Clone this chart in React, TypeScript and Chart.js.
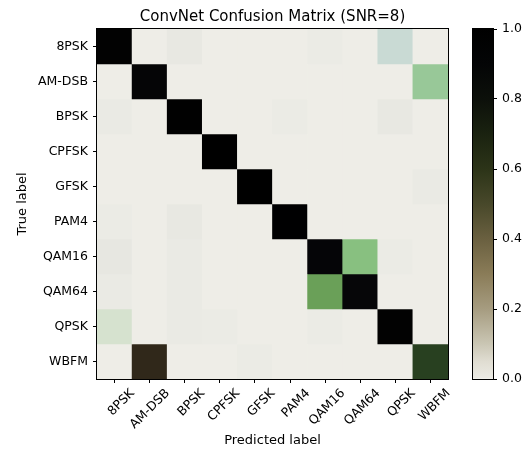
import React, { useEffect, useRef } from "react";
import { Chart, registerables } from "chart.js";

Chart.register(...registerables);

// ---- data ----
const classes = ["8PSK", "AM-DSB", "BPSK", "CPFSK", "GFSK", "PAM4", "QAM16", "QAM64", "QPSK", "WBFM"];

// rows = true label, columns = predicted label
const row8PSK = [0.88, 0, 0.02, 0, 0, 0, 0.01, 0, 0.11, 0];
const rowAMDSB = [0, 0.7, 0, 0, 0, 0, 0, 0, 0, 0.3];
const rowBPSK = [0.015, 0, 0.95, 0, 0, 0.01, 0, 0, 0.02, 0];
const rowCPFSK = [0, 0, 0, 1.0, 0, 0, 0, 0, 0, 0];
const rowGFSK = [0, 0, 0, 0, 0.98, 0, 0, 0, 0, 0.015];
const rowPAM4 = [0.01, 0, 0.02, 0, 0, 0.97, 0, 0, 0, 0];
const rowQAM16 = [0.025, 0, 0.012, 0, 0, 0, 0.64, 0.32, 0.01, 0];
const rowQAM64 = [0.015, 0, 0.012, 0, 0, 0, 0.38, 0.6, 0, 0];
const rowQPSK = [0.08, 0, 0.012, 0.01, 0, 0, 0.01, 0, 0.88, 0];
const rowWBFM = [0, 0.55, 0, 0, 0.01, 0, 0, 0, 0, 0.44];

const matrix = [row8PSK, rowAMDSB, rowBPSK, rowCPFSK, rowGFSK, rowPAM4, rowQAM16, rowQAM64, rowQPSK, rowWBFM];

const colorbarTicks = [0.0, 0.2, 0.4, 0.6, 0.8, 1.0];

// ---- styles ----
const FONT = "DejaVu Sans";

// colour map used for the matrix cells
const cellStops: [number, [number, number, number]][] = [
  [0.0, [238, 237, 231]],
  [0.01, [235, 235, 229]],
  [0.025, [231, 231, 225]],
  [0.08, [214, 226, 207]],
  [0.11, [201, 218, 212]],
  [0.3, [152, 200, 152]],
  [0.32, [136, 192, 128]],
  [0.38, [106, 160, 88]],
  [0.44, [40, 64, 32]],
  [0.55, [48, 40, 26]],
  [0.6, [6, 6, 8]],
  [1.0, [0, 0, 0]],
];

// colour bar gradient
const barStops: [number, string][] = [
  [0.0, "#ecebe5"],
  [0.05, "#e0ddd2"],
  [0.1, "#cac6b4"],
  [0.2, "#a69c80"],
  [0.3, "#8a7c58"],
  [0.4, "#6a6040"],
  [0.5, "#48482a"],
  [0.6, "#2c3418"],
  [0.7, "#1a2210"],
  [0.8, "#0c100a"],
  [0.9, "#040506"],
  [1.0, "#000000"],
];

function cmap(v: number): string {
  for (let i = 1; i < cellStops.length; i++) {
    const [v1, c1] = cellStops[i];
    const [v0, c0] = cellStops[i - 1];
    if (v <= v1) {
      const t = v1 === v0 ? 0 : Math.max(0, (v - v0) / (v1 - v0));
      const c = c0.map((a, k) => Math.round(a + (c1[k] - a) * t));
      return `rgb(${c[0]},${c[1]},${c[2]})`;
    }
  }
  return "rgb(0,0,0)";
}

const framePlugin = {
  id: "frame",
  afterDatasetsDraw(chart: any) {
    const { ctx, chartArea } = chart;
    ctx.save();
    ctx.strokeStyle = "#000";
    ctx.lineWidth = 1;
    const l = Math.round(chartArea.left) - 0.5;
    const t = Math.round(chartArea.top) - 0.5;
    const r = Math.round(chartArea.right) + 0.5;
    const b = Math.round(chartArea.bottom) + 0.5;
    ctx.strokeRect(l, t, r - l, b - t);
    ctx.restore();
  },
};

export default function App() {
  const mainRef = useRef<HTMLCanvasElement>(null);
  const barRef = useRef<HTMLCanvasElement>(null);

  useEffect(() => {
    const tickFont = { family: FONT, size: 12.5 };
    const main = new Chart(mainRef.current!, {
      type: "bar",
      data: {
        labels: classes,
        datasets: matrix.map((row, r) => ({
          label: classes[r],
          data: row.map(() => [r - 0.5, r + 0.5]),
          backgroundColor: row.map((v) => cmap(v)),
          borderWidth: 0,
          barPercentage: 1,
          categoryPercentage: 1,
          grouped: false,
        })),
      } as any,
      options: {
        responsive: false,
        animation: false,
        devicePixelRatio: 1,
        layout: { padding: { left: 0, right: 76, top: 0, bottom: 0 } },
        plugins: { legend: { display: false }, tooltip: { enabled: false }, title: { display: false } },
        scales: {
          x: {
            type: "category",
            offset: true,
            grid: { display: true, drawOnChartArea: false, offset: false, tickLength: 4, tickColor: "#000", color: "#000" },
            border: { display: false },
            ticks: {
              autoSkip: false,
              minRotation: 45,
              maxRotation: 45,
              padding: 3,
              labelOffset: 18,
              color: "#000",
              font: tickFont,
            },
            title: {
              display: true,
              text: "Predicted label",
              color: "#000",
              font: { family: FONT, size: 13 },
              padding: { top: 0, bottom: 0.5 },
            },
            afterFit: (s: any) => {
              s.height = 70;
            },
          },
          xTop: {
            type: "category",
            position: "top",
            grid: { display: false },
            border: { display: false },
            ticks: { display: false },
            title: {
              display: true,
              text: "ConvNet Confusion Matrix (SNR=8)",
              color: "#000",
              font: { family: FONT, size: 15 },
              padding: { top: 8, bottom: 0 },
            },
            afterFit: (s: any) => {
              s.height = 29;
            },
          },
          y: {
            type: "linear",
            reverse: true,
            min: -0.5,
            max: 9.5,
            afterBuildTicks: (s: any) => {
              s.ticks = classes.map((_, i) => ({ value: i }));
            },
            grid: { display: true, drawOnChartArea: false, tickLength: 4, tickColor: "#000", color: "#000" },
            border: { display: false },
            ticks: {
              autoSkip: false,
              padding: 5,
              color: "#000",
              font: tickFont,
              callback: (v: any) => classes[Math.round(Number(v))],
            },
            title: {
              display: true,
              text: "True label",
              color: "#000",
              font: { family: FONT, size: 13 },
              padding: { top: 14.5, bottom: 0 },
            },
            afterFit: (s: any) => {
              s.width = 97;
            },
          },
        },
      } as any,
      plugins: [framePlugin],
    });

    const bar = new Chart(barRef.current!, {
      type: "bar",
      data: {
        labels: [""],
        datasets: [
          {
            data: [[colorbarTicks[0], colorbarTicks[colorbarTicks.length - 1]]],
            borderWidth: 0,
            barPercentage: 1,
            categoryPercentage: 1,
            backgroundColor: (ctx: any) => {
              const area = ctx.chart.chartArea;
              if (!area) return "#888";
              const g = ctx.chart.ctx.createLinearGradient(0, area.bottom, 0, area.top);
              barStops.forEach(([p, c]) => g.addColorStop(p, c));
              return g;
            },
          },
        ],
      } as any,
      options: {
        responsive: false,
        animation: false,
        devicePixelRatio: 1,
        layout: { padding: { left: 33, right: 0, top: 29, bottom: 70 } },
        plugins: { legend: { display: false }, tooltip: { enabled: false } },
        scales: {
          x: { type: "category", display: false, offset: true },
          y: {
            type: "linear",
            position: "right",
            min: 0,
            max: 1,
            afterBuildTicks: (s: any) => {
              s.ticks = colorbarTicks.map((v) => ({ value: v }));
            },
            grid: { display: true, drawOnChartArea: false, tickLength: 4, tickColor: "#000", color: "#000" },
            border: { display: false },
            ticks: {
              padding: 5,
              color: "#000",
              font: tickFont,
              callback: (v: any) => Number(v).toFixed(1),
            },
            afterFit: (s: any) => {
              s.width = 31;
            },
          },
        },
      } as any,
      plugins: [framePlugin],
    });

    return () => {
      main.destroy();
      bar.destroy();
    };
  }, []);

  return (
    <div style={{ position: "fixed", left: 0, top: 0, width: 524, height: 449, background: "#fff" }}>
      <canvas ref={mainRef} width={524} height={449} style={{ position: "absolute", left: 0, top: 0 }} />
      <canvas ref={barRef} width={84} height={449} style={{ position: "absolute", left: 440, top: 0 }} />
    </div>
  );
}
